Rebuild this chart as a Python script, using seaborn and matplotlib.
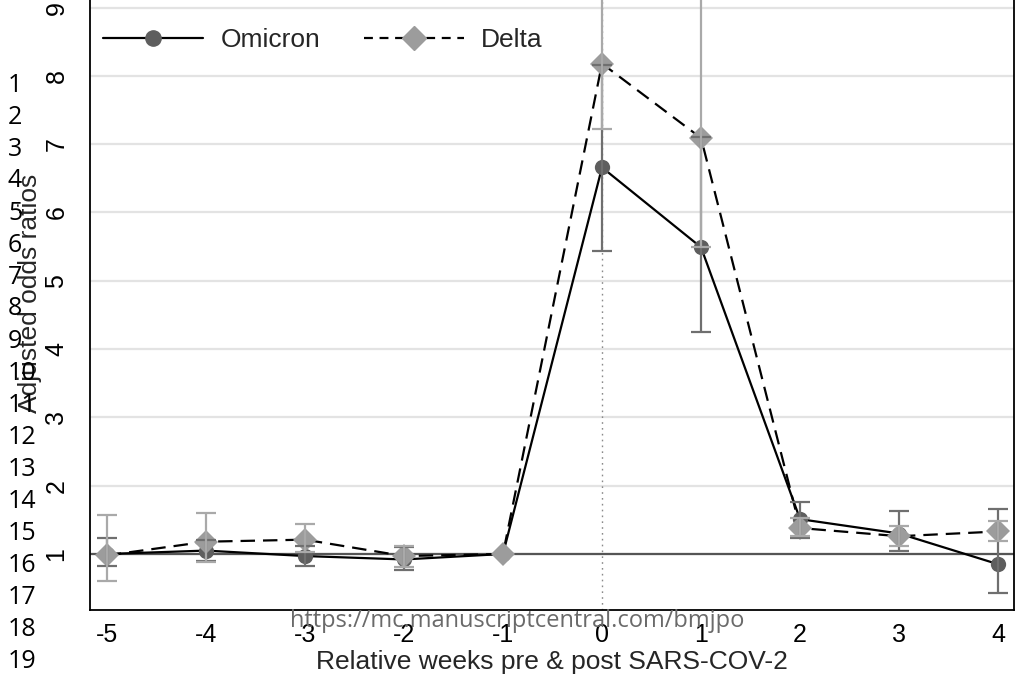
import numpy as np
import pandas as pd
import matplotlib
matplotlib.use("Agg")
import matplotlib.pyplot as plt
from matplotlib.lines import Line2D
import seaborn as sns

# ---------------- data ----------------
weeks = [-5, -4, -3, -2, -1, 0, 1, 2, 3, 4]
omicron_or = [1.00, 1.05, 0.97, 0.92, 1.00, 6.66, 5.49, 1.51, 1.30, 0.85]
omicron_lo = [0.82, 0.90, 0.83, 0.77, np.nan, 5.44, 4.25, 1.23, 1.05, 0.43]
omicron_hi = [1.23, 1.20, 1.12, 1.10, np.nan, 8.16, 7.10, 1.76, 1.63, 1.66]
delta_or = [0.98, 1.18, 1.21, 0.97, 1.00, 8.18, 7.09, 1.38, 1.26, 1.33]
delta_lo = [0.60, 0.88, 1.03, 0.81, np.nan, 7.22, 5.50, 1.27, 1.11, 1.19]
delta_hi = [1.57, 1.60, 1.44, 1.12, np.nan, 9.60, 10.20, 1.52, 1.41, 1.49]
series_names = ["Omicron", "Delta"]
y_ticks = [1, 2, 3, 4, 5, 6, 7, 8, 9]
line_numbers = list(range(1, 20))
x_title = "Relative weeks pre & post SARS-COV-2"
y_title = "Adjusted odds ratios"
watermark = "https://mc.manuscriptcentral.com/bmjpo"

df = pd.DataFrame({
    "week": weeks * 2,
    "or": omicron_or + delta_or,
    "lo": omicron_lo + delta_lo,
    "hi": omicron_hi + delta_hi,
    "variant": [series_names[0]] * len(weeks) + [series_names[1]] * len(weeks),
})

# ---------------- style ----------------
sns.set_style("white")
plt.rcParams["font.family"] = ["Liberation Sans", "DejaVu Sans"]

W, H = 1015, 680
fig = plt.figure(figsize=(W / 100, H / 100), dpi=100)
fig.patch.set_facecolor("white")

# axes: left 90px, right 1014px, bottom 610px; top runs past the image edge
ymin, ymax = 0.18, 9.5
px_per_unit = 68.3
ax_h = (ymax - ymin) * px_per_unit
ax = fig.add_axes([90 / W, (H - 610) / H, 924 / W, ax_h / H])
ax.set_xlim(-5.17, 4.16)
ax.set_ylim(ymin, ymax)

c_om_mark = "#5e5e5e"
c_om_ci = "#6f6f6f"
c_de_mark = "#9c9c9c"
c_de_ci = "#a9a9a9"

ax.set_yticks(y_ticks)
ax.yaxis.grid(True, color="#e3e3e3", lw=1.6, zorder=0)
ax.xaxis.grid(False)
ax.set_axisbelow(True)

ax.axvline(0, color="#8a8a8a", lw=1.0, ls=(0, (1.2, 3.0)), zorder=1)
ax.axhline(1, color="#555555", lw=1.6, zorder=1)

om = df[df["variant"] == "Omicron"]
de = df[df["variant"] == "Delta"]

sns.lineplot(data=om, x="week", y="or", color="black", lw=1.6, marker="o",
             markersize=11, markerfacecolor=c_om_mark, markeredgecolor=c_om_mark,
             markeredgewidth=0, ax=ax, legend=False, zorder=3)
sns.lineplot(data=de, x="week", y="or", color="black", lw=1.6, marker="D",
             markersize=12.5, markerfacecolor=c_de_mark, markeredgecolor=c_de_mark,
             markeredgewidth=0, ax=ax, legend=False, zorder=4)
ax.lines[-1].set_linestyle((0, (6.5, 3.6)))

for sub, col, z in [(om, c_om_ci, 5), (de, c_de_ci, 6)]:
    s = sub.dropna(subset=["lo", "hi"])
    ax.errorbar(s["week"], s["or"], yerr=[s["or"] - s["lo"], s["hi"] - s["or"]],
                fmt="none", ecolor=col, elinewidth=1.6, capsize=7.2, capthick=1.6,
                zorder=z)

for sp in ax.spines.values():
    sp.set_color("black")
    sp.set_linewidth(1.3)

ax.set_xticks(weeks)
ax.set_xticklabels([str(w) for w in weeks])
ax.tick_params(axis="both", direction="out", length=7.5, width=1.2, color="black",
               labelsize=18, labelcolor="black")
ax.tick_params(axis="x", pad=2)
ax.tick_params(axis="y", pad=8)
for lab in ax.get_yticklabels():
    lab.set_rotation(90)
    lab.set_va("center")
ax.set_xlabel("")
ax.set_ylabel("")

fig.text(552 / W, 1 - 662 / H, x_title, ha="center", va="center", fontsize=19)
fig.text(30 / W, 1 - 293 / H, y_title, ha="center", va="center", fontsize=19,
         rotation=90)

handles = [
    Line2D([], [], color="black", lw=1.6, marker="o", markersize=11,
           markerfacecolor=c_om_mark, markeredgecolor=c_om_mark),
    Line2D([], [], color="black", lw=1.6, marker="D", markersize=12.5,
           markerfacecolor=c_de_mark, markeredgecolor=c_de_mark,
           linestyle=(0, (4.0, 3.0))),
]
ax.legend(handles, series_names, loc="center left", ncol=2, frameon=False,
          bbox_to_anchor=(103 / W, 1 - 40 / H), bbox_transform=fig.transFigure,
          borderaxespad=0, borderpad=0, fontsize=19, handlelength=3.8,
          handletextpad=0.65, columnspacing=1.65)

for i in line_numbers:
    fig.text(8 / W, 1 - (85 + 32 * (i - 1)) / H, str(i), ha="left", va="center",
             fontsize=18, family=["Open Sans", "DejaVu Sans"], color="black")

fig.text(517 / W, 1 - 621 / H, watermark, ha="center", va="center", fontsize=17,
         family=["Open Sans", "DejaVu Sans"], color="#6a6a6a", zorder=10)

fig.savefig("out.png", dpi=100, facecolor="white")
